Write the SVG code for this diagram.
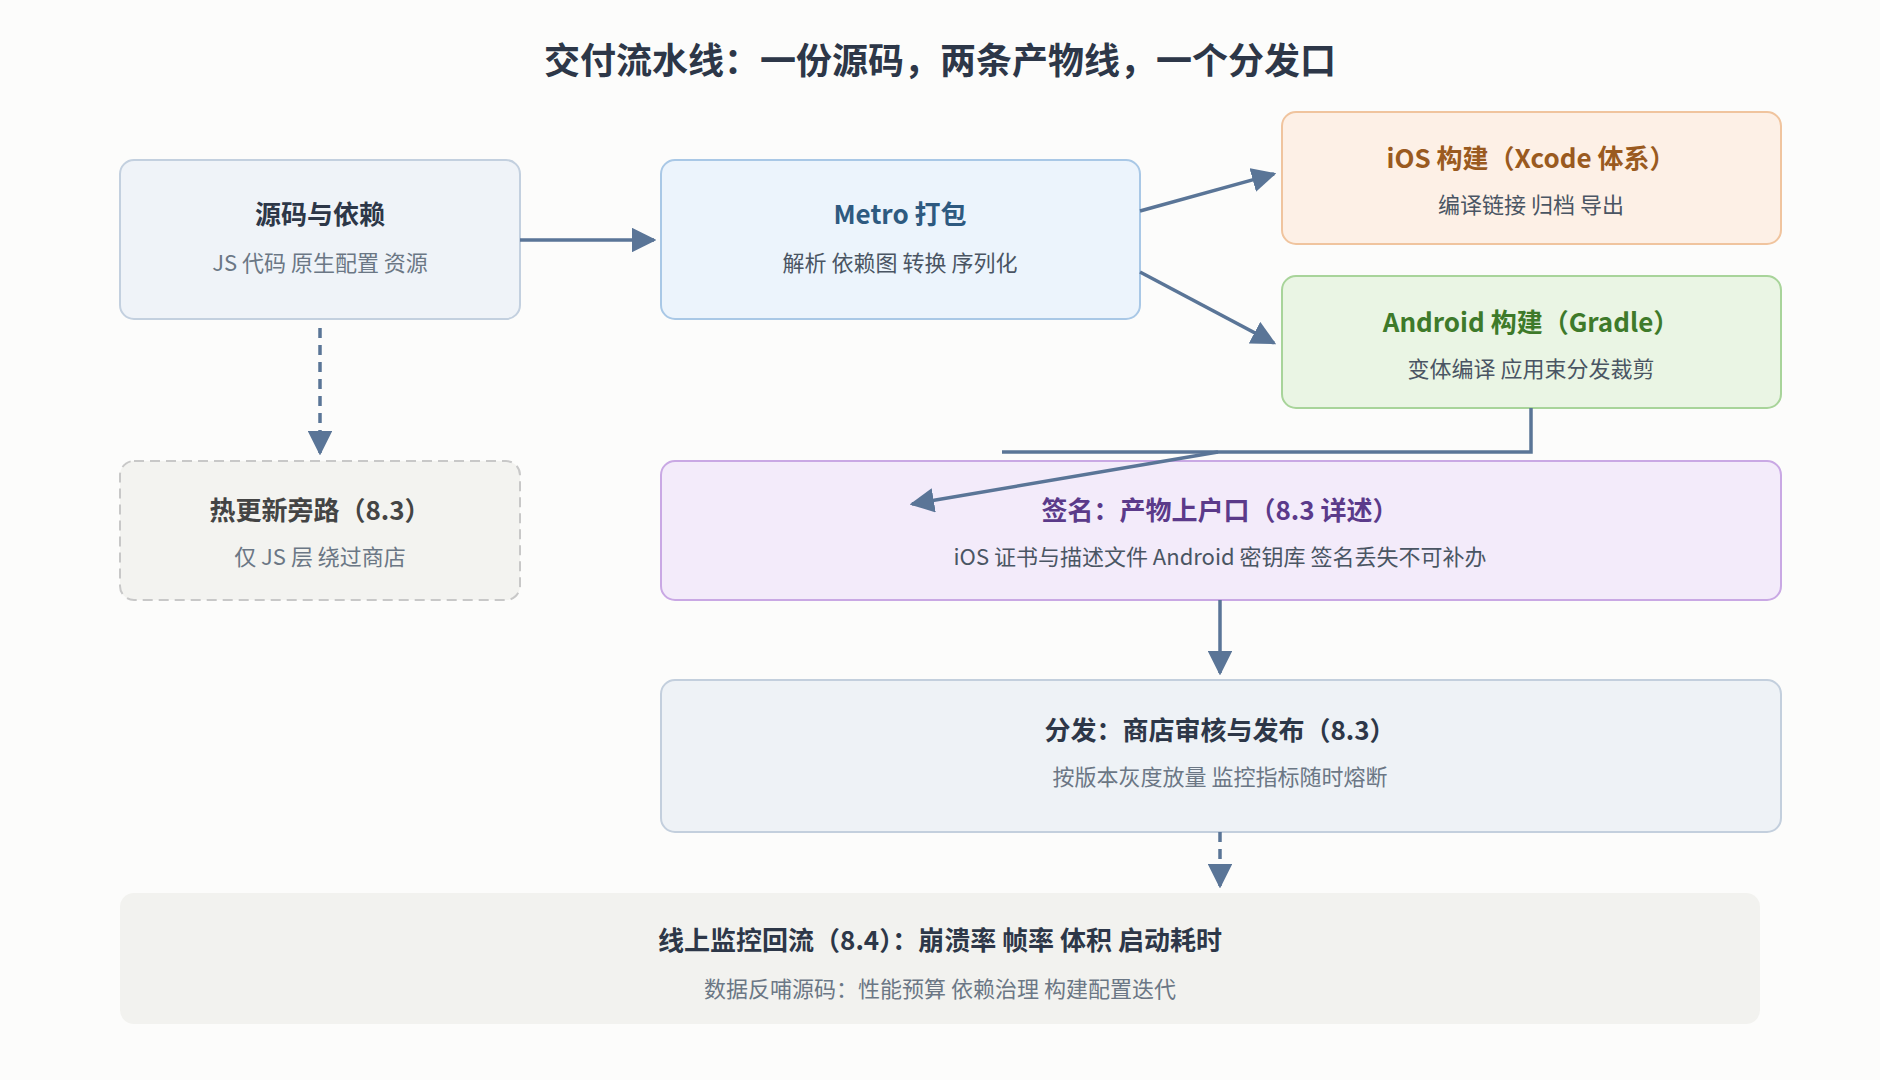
<svg xmlns="http://www.w3.org/2000/svg" width="1880" height="1080" viewBox="0 0 1880 1080">
<defs>
<marker id="ah" viewBox="0 0 10 10" refX="9" refY="5" markerWidth="10" markerHeight="10" markerUnits="userSpaceOnUse" orient="auto"><path d="M0,0 L10,5 L0,10 z" fill="#5a7597" transform="scale(1)"/></marker>
<marker id="a" viewBox="0 0 10 10" refX="9" refY="5" markerWidth="7" markerHeight="7" orient="auto"><path d="M0,0 L10,5 L0,10 z" fill="#5a7597"/></marker>
</defs>
<style>
text{font-family:"Noto Sans CJK SC","Noto Sans",sans-serif;text-anchor:middle}
.t{font-size:26px;font-weight:bold}
.s{font-size:22px;fill:#6b7785}
.c{fill:none;stroke:#5a7597;stroke-width:3.5}
</style>
<rect width="1880" height="1080" fill="#fcfcfb"/>
<text x="940" y="74" font-size="36" font-weight="bold" fill="#2d3748">交付流水线：一份源码，两条产物线，一个分发口</text>
<g id="src"><rect x="120" y="160" width="400" height="159" rx="14" fill="#eff3f8" stroke="#c3d0df" stroke-width="2"/><text class="t" x="320" y="224" fill="#2d3748">源码与依赖</text><text class="s" x="320" y="271">JS 代码 原生配置 资源</text></g>
<g id="metro"><rect x="661" y="160" width="479" height="159" rx="14" fill="#ecf4fc" stroke="#a9c8e6" stroke-width="2"/><text class="t" x="900" y="224" fill="#2e5a80">Metro 打包</text><text class="s" x="900" y="271" fill="#4a5563" style="fill:#4a5563">解析 依赖图 转换 序列化</text></g>
<g id="ios"><rect x="1282" y="112" width="499" height="132" rx="14" fill="#fdf0e6" stroke="#f0c49e" stroke-width="2"/><text class="t" x="1531" y="168" fill="#9a5a20">iOS 构建（Xcode 体系）</text><text class="s" x="1531" y="213" style="fill:#4a5563">编译链接 归档 导出</text></g>
<g id="android"><rect x="1282" y="276" width="499" height="132" rx="14" fill="#eaf5e4" stroke="#a8d49a" stroke-width="2"/><text class="t" x="1531" y="332" fill="#3e7a2a">Android 构建（Gradle）</text><text class="s" x="1531" y="377" style="fill:#4a5563">变体编译 应用束分发裁剪</text></g>
<g id="hot"><rect x="120" y="461" width="400" height="139" rx="14" fill="#f3f3f0" stroke="#c8c8c8" stroke-width="2" stroke-dasharray="10 6"/><text class="t" x="320" y="520" fill="#444">热更新旁路（8.3）</text><text class="s" x="320" y="565">仅 JS 层 绕过商店</text></g>
<g id="sign"><rect x="661" y="461" width="1120" height="139" rx="14" fill="#f3ebfa" stroke="#c9a8e4" stroke-width="2"/><text class="t" x="1220" y="520" fill="#5b3a8a">签名：产物上户口（8.3 详述）</text><text class="s" x="1220" y="565" style="fill:#4a5563">iOS 证书与描述文件 Android 密钥库 签名丢失不可补办</text></g>
<g id="dist"><rect x="661" y="680" width="1120" height="152" rx="14" fill="#eef2f6" stroke="#c3cfdd" stroke-width="2"/><text class="t" x="1220" y="740" fill="#2d3748">分发：商店审核与发布（8.3）</text><text class="s" x="1220" y="785">按版本灰度放量 监控指标随时熔断</text></g>
<g id="monitor"><rect x="120" y="893" width="1640" height="131" rx="14" fill="#f2f2ef"/><text class="t" x="940" y="950" fill="#2d3748" font-size="25">线上监控回流（8.4）：崩溃率 帧率 体积 启动耗时</text><text class="s" x="940" y="997">数据反哺源码：性能预算 依赖治理 构建配置迭代</text></g>
<g id="connectors">
<line class="c" x1="520" y1="240" x2="654" y2="240" marker-end="url(#a)"/>
<line class="c" x1="1140" y1="211" x2="1274" y2="174" marker-end="url(#a)"/>
<line class="c" x1="1140" y1="272" x2="1274" y2="343" marker-end="url(#a)"/>
<line class="c" x1="320" y1="328" x2="320" y2="453" stroke-dasharray="10 7" stroke="#777" marker-end="url(#a)"/>
<polyline class="c" points="1531,408 1531,452 1002,452"/>
<line class="c" x1="1218" y1="452" x2="912" y2="504" marker-end="url(#a)"/>
<line class="c" x1="1220" y1="600" x2="1220" y2="673" marker-end="url(#a)"/>
<line class="c" x1="1220" y1="832" x2="1220" y2="886" stroke-dasharray="10 7" marker-end="url(#a)"/>
</g>
</svg>
